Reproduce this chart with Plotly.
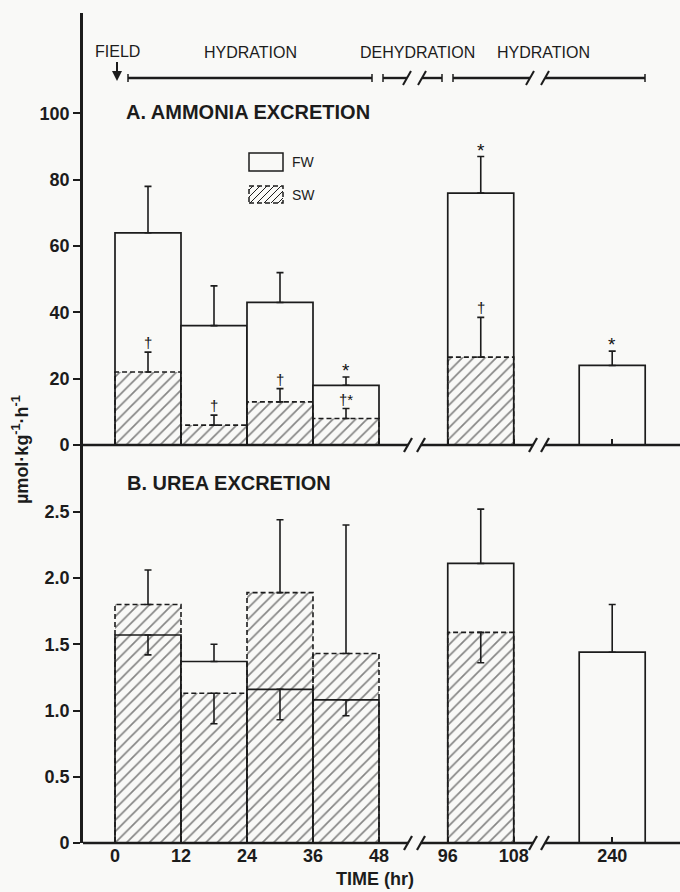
import plotly.graph_objects as go

# ---------------- data ----------------
intervals = ["0-12", "12-24", "24-36", "36-48", "96-108", "240"]
bar_center_hr = [6, 18, 30, 42, 102, 240]
tick_hours = [0, 12, 24, 36, 48, 96, 108, 240]
tick_labels = ["0", "12", "24", "36", "48", "96", "108", "240"]

# A. Ammonia excretion (umol kg-1 h-1)
nh3_fw = [64, 36, 43, 18, 76, 24]
nh3_fw_err = [14, 12, 9, 2.5, 11, 4.3]
nh3_sw = [22, 6, 13, 8, 26.5, None]
nh3_sw_err = [6, 3, 4, 3, 12, None]
nh3_fw_sig = ["", "", "", "*", "*", "*"]
nh3_sw_sig = ["†", "†", "†", "†*", "†", ""]

# B. Urea excretion
urea_fw = [1.57, 1.37, 1.16, 1.08, 2.11, 1.44]
urea_fw_err_up = [0, 0.13, 0, 0, 0.41, 0.36]
urea_fw_err_dn = [0.15, 0, 0.23, 0.12, 0, 0]
urea_sw = [1.80, 1.13, 1.89, 1.43, 1.59, None]
urea_sw_err_up = [0.26, 0, 0.55, 0.97, 0, None]
urea_sw_err_dn = [0, 0.23, 0, 0, 0.23, None]

ticks_a = [0, 20, 40, 60, 80, 100]
ticks_b = [0, 0.5, 1.0, 1.5, 2.0, 2.5]
ticks_b_text = ["0", "0.5", "1.0", "1.5", "2.0", "2.5"]

# ---------------- style ----------------
INK = "#1c1c1c"
BG = "#f9f9f7"
FONT = "Liberation Sans, Arial, Helvetica, sans-serif"
BAR_W = 12


def axis_pos(h):
    """broken time axis: 48->96 and 108->240 are compressed"""
    if h <= 60:
        return h
    if h <= 150:
        return h - 35.5
    return h - 149.6


xc = [axis_pos(h) for h in bar_center_hr]

L, T, B = 83, 13, 49
W, H = 680, 892
PW, PH = W - L, H - T - B
SPLIT = (843 - 445) / PH


def PX(px):
    return (px - L) / PW


def PY(py):
    return (H - B - py) / PH


fig = go.Figure()


def add_panel(xa, ya, fw, fw_up, fw_dn, sw, sw_up, sw_dn):
    fig.add_trace(go.Bar(
        x=xc, y=fw, width=BAR_W, xaxis=xa, yaxis=ya, name="FW",
        marker=dict(color=BG, line=dict(color=INK, width=1.7)),
        error_y=dict(type="data", symmetric=False, array=fw_up, arrayminus=fw_dn,
                     color=INK, thickness=1.6, width=3.5),
        showlegend=False, hoverinfo="skip"))
    fig.add_trace(go.Bar(
        x=xc, y=sw, width=BAR_W, xaxis=xa, yaxis=ya, name="SW",
        marker=dict(color="rgba(0,0,0,0)", line=dict(width=0),
                    pattern=dict(shape="/", size=8, solidity=0.21, fgcolor="#111111",
                                 bgcolor="rgba(0,0,0,0)", fillmode="overlay")),
        error_y=dict(type="data", symmetric=False,
                     array=[e if e is not None else 0 for e in sw_up],
                     arrayminus=[e if e is not None else 0 for e in sw_dn],
                     color=INK, thickness=1.6, width=3.5),
        showlegend=False, hoverinfo="skip"))
    ox, oy = [], []
    for c, v in zip(xc, sw):
        if v is None:
            continue
        ox += [c - BAR_W / 2, c - BAR_W / 2, c + BAR_W / 2, c + BAR_W / 2, None]
        oy += [0, v, v, 0, None]
    fig.add_trace(go.Scatter(
        x=ox, y=oy, mode="lines", xaxis=xa, yaxis=ya,
        line=dict(color=INK, width=1.6, dash="5px,3px"),
        showlegend=False, hoverinfo="skip"))


add_panel("x2", "y2", nh3_fw, nh3_fw_err, [0] * 6, nh3_sw, nh3_sw_err, [0] * 6)
add_panel("x", "y", urea_fw, urea_fw_err_up, urea_fw_err_dn, urea_sw, urea_sw_err_up, urea_sw_err_dn)

annotations = []
SIG_FONT = dict(family="Liberation Sans, DejaVu Sans, sans-serif", color="#111111")
# significance marks (panel A)
for i in range(len(xc)):
    if nh3_fw_sig[i]:
        annotations.append(dict(x=xc[i], y=nh3_fw[i] + nh3_fw_err[i], xref="x2", yref="y2",
                                text=nh3_fw_sig[i], showarrow=False, yanchor="bottom", yshift=-6,
                                font=dict(size=19, **SIG_FONT)))
    if nh3_sw_sig[i]:
        annotations.append(dict(x=xc[i], y=nh3_sw[i] + nh3_sw_err[i], xref="x2", yref="y2",
                                text=nh3_sw_sig[i], showarrow=False, yanchor="bottom", yshift=-1,
                                font=dict(size=15, **SIG_FONT)))


def txt(x, y, s, size, weight="normal", xanchor="center", **kw):
    d = dict(x=PX(x), y=PY(y), xref="paper", yref="paper", text=s, showarrow=False,
             xanchor=xanchor, yanchor="middle",
             font=dict(family=FONT, size=size, color=INK, weight=weight))
    d.update(kw)
    return d


annotations += [
    txt(250, 52, "HYDRATION", 16),
    txt(417, 52, "DEHYDRATION", 16),
    txt(543, 52, "HYDRATION", 16),
    txt(124, 112, "A. AMMONIA EXCRETION", 20, "bold", xanchor="left"),
    txt(125, 483, "B. UREA EXCRETION", 20, "bold", xanchor="left"),
    txt(290, 162, "FW", 14, xanchor="left"),
    txt(290, 195, "SW", 14, xanchor="left"),
    txt(375, 879, "TIME (hr)", 18, "bold"),
    txt(21, 450, "µmol·kg<sup>-1</sup>·h<sup>-1</sup>", 18, "bold", textangle=-90),
    dict(x=PX(117), y=PY(81), xref="paper", yref="paper", text="FIELD", showarrow=True,
         ax=0, ay=-29, arrowhead=2, arrowsize=1, arrowwidth=2, arrowcolor=INK, standoff=0,
         font=dict(family=FONT, size=16, color=INK)),
]

shapes = []


def seg(x0, y0, x1, y1, w=2.5, dash=None):
    ln = dict(color=INK, width=w)
    if dash:
        ln["dash"] = dash
    shapes.append(dict(type="line", xref="paper", yref="paper", x0=PX(x0), y0=PY(y0),
                       x1=PX(x1), y1=PY(y1), line=ln, layer="above"))


# broken x baselines
for yb in (445, 843):
    for a, b in [(83, 408), (421, 533), (545, 680)]:
        seg(a, yb, b, yb, 2.6)
    for c in [408, 421, 533, 545]:
        seg(c - 4, yb + 7, c + 4, yb - 7, 2.2)

# experimental timeline
ty = 78
for a, b in [(128, 372), (383, 407), (422, 442), (453, 530), (545, 645)]:
    seg(a, ty, b, ty, 2.4)
for c in [128, 372, 383, 442, 453, 645]:
    seg(c, ty - 4, c, ty + 4, 1.5)
for c in [407, 422, 530, 545]:
    seg(c - 4, ty + 7, c + 4, ty - 7, 2.0)

# legend keys
shapes.append(dict(type="rect", xref="paper", yref="paper", x0=PX(249), x1=PX(283),
                   y0=PY(171), y1=PY(153), line=dict(color=INK, width=1.5), fillcolor=BG))
shapes.append(dict(type="rect", xref="paper", yref="paper", x0=PX(249), x1=PX(283),
                   y0=PY(203), y1=PY(186), line=dict(color=INK, width=1.5, dash="5px,3px")))
bx0, bx1, by0, by1 = 249, 283, 186, 203
w_, h_ = bx1 - bx0, by1 - by0
dd = -h_ + 4
while dd < w_:
    u0 = max(dd, 0)
    u1 = min(w_, h_ + dd)
    if u1 > u0:
        seg(bx0 + u0, by1 - (u0 - dd), bx0 + u1, by1 - (u1 - dd), 1.0)
    dd += 7

axis_common = dict(showgrid=False, zeroline=False, tickcolor=INK, tickwidth=1.5)
fig.update_layout(
    width=W, height=H, margin=dict(l=L, r=0, t=T, b=B),
    paper_bgcolor=BG, plot_bgcolor=BG, barmode="overlay", showlegend=False,
    font=dict(family=FONT, color=INK),
    xaxis=dict(domain=[0, 1], range=[axis_pos(0) - 5.818, 102.727], anchor="y",
               tickvals=[axis_pos(h) for h in tick_hours], ticktext=tick_labels,
               ticks="inside", ticklen=6, showline=False,
               tickfont=dict(size=18, weight="bold", color=INK), **axis_common),
    xaxis2=dict(matches="x", anchor="y2", domain=[0, 1],
                tickvals=[axis_pos(h) for h in tick_hours], ticks="inside", ticklen=6,
                showticklabels=False, showline=False, **axis_common),
    yaxis=dict(domain=[0, SPLIT], range=[0, 3.004], tickvals=ticks_b, ticktext=ticks_b_text,
               ticks="outside", ticklen=7, showline=True, linewidth=2.6, linecolor=INK,
               tickfont=dict(size=18, weight="bold", color=INK), **axis_common),
    yaxis2=dict(domain=[SPLIT, 1], range=[0, 130.3], tickvals=ticks_a,
                ticks="outside", ticklen=7, showline=True, linewidth=2.6, linecolor=INK,
                tickfont=dict(size=18, weight="bold", color=INK), **axis_common),
    annotations=annotations, shapes=shapes,
)

fig.write_html("out.html", config={"displayModeBar": False},
               post_script="document.body.style.margin='0';document.body.style.overflow='hidden';")
